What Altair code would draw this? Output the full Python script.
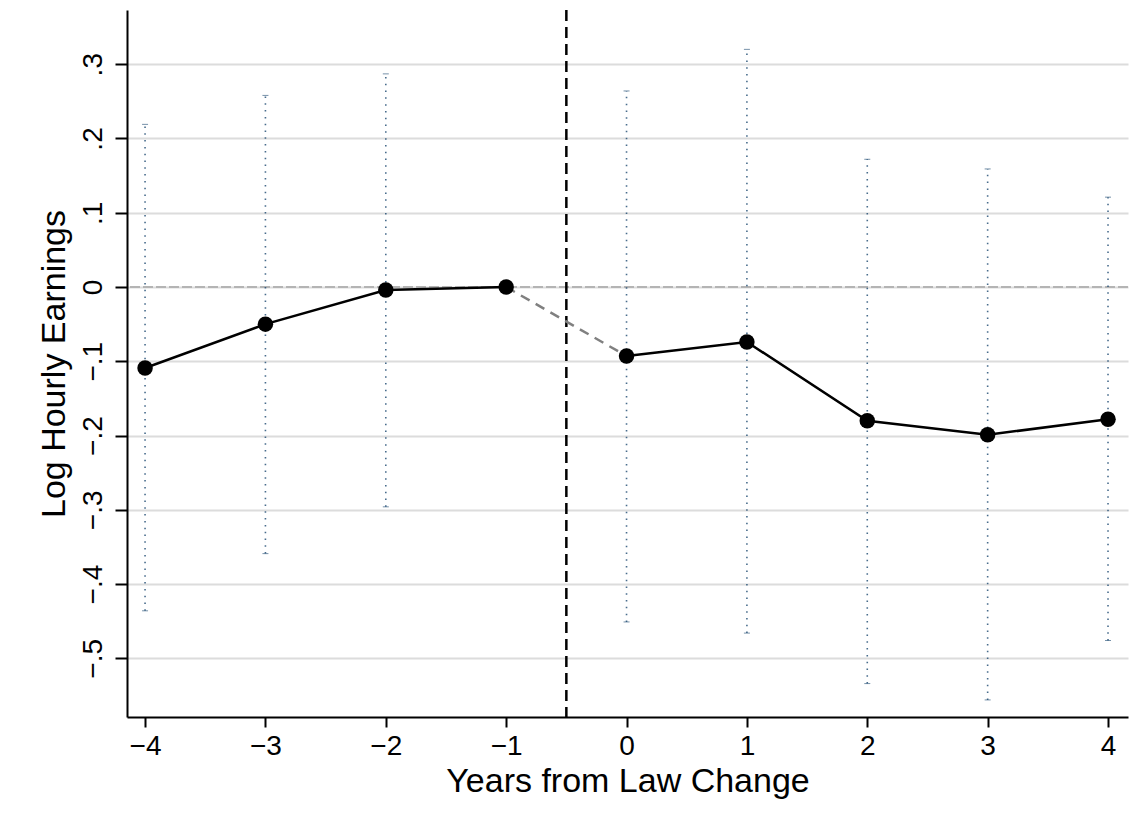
import altair as alt
import pandas as pd

years = [-4, -3, -2, -1, 0, 1, 2, 3, 4]
coef = [-0.109, -0.050, -0.004, 0.0, -0.093, -0.074, -0.180, -0.199, -0.178]
ci_hi = [0.219, 0.258, 0.287, None, 0.264, 0.320, 0.172, 0.159, 0.121]
ci_lo = [-0.436, -0.359, -0.296, None, -0.451, -0.466, -0.534, -0.556, -0.476]
period = ["pre", "pre", "pre", "pre", "post", "post", "post", "post", "post"]

y_ticks = [-0.5, -0.4, -0.3, -0.2, -0.1, 0.0, 0.1, 0.2, 0.3]
x_ticks = [-4, -3, -2, -1, 0, 1, 2, 3, 4]
event_line = [-0.5]
zero_line = [0.0]

df = pd.DataFrame({"year": years, "coef": coef, "hi": ci_hi, "lo": ci_lo, "period": period})
ci_df = df.dropna(subset=["hi", "lo"])
bridge = df[df["year"].isin([-1, 0])]

FONT = "Liberation Sans"
xs = alt.Scale(domain=[-4.15, 4.166], nice=False, zero=False)
ys = alt.Scale(domain=[-0.579, 0.373], nice=False, zero=False)

x_axis = alt.Axis(
    values=x_ticks, title="Years from Law Change", grid=False,
    labelExpr="datum.value < 0 ? '\u2212' + abs(datum.value) : '' + datum.value",
    labelFontSize=28, titleFontSize=34, labelPadding=5, titlePadding=4,
    tickSize=10, tickWidth=2, domainWidth=2, domainColor="black", tickColor="black",
    labelColor="black", titleColor="black", labelFont=FONT, titleFont=FONT,
    titleFontWeight="normal",
)
y_axis = alt.Axis(
    values=y_ticks, title="Log Hourly Earnings", grid=True, gridColor="#dcdcdc", gridWidth=2,
    labelExpr="datum.value == 0 ? '0' : (datum.value < 0 ? '\u2212' : '') + replace(format(abs(datum.value), '.1f'), '0.', '.')",
    labelAngle=270, labelAlign="center", labelBaseline="alphabetic",
    labelFontSize=28, titleFontSize=34, labelPadding=14, titlePadding=8,
    tickSize=12, tickWidth=2, domainWidth=2, domainColor="black", tickColor="black",
    labelColor="black", titleColor="black", labelFont=FONT, titleFont=FONT,
    titleFontWeight="normal",
)

base = alt.Chart(df)

grid_layer = base.mark_point(opacity=0).encode(
    x=alt.X("year:Q", scale=xs, axis=x_axis),
    y=alt.Y("coef:Q", scale=ys, axis=y_axis),
)

zero = alt.Chart(pd.DataFrame({"z": zero_line})).mark_rule(
    color="#b4b4b4", strokeWidth=2.2, strokeDash=[10, 3]
).encode(y=alt.Y("z:Q", scale=ys))

vline = alt.Chart(pd.DataFrame({"v": event_line})).mark_rule(
    color="black", strokeWidth=2.5, strokeDash=[11, 6]
).encode(x=alt.X("v:Q", scale=xs))

ci = alt.Chart(ci_df).mark_rule(
    color="#1a476f", strokeWidth=1.6, strokeDash=[1.5, 5.3], opacity=0.8
).encode(
    x=alt.X("year:Q", scale=xs),
    y=alt.Y("lo:Q", scale=ys),
    y2="hi:Q",
)
cap_hi = alt.Chart(ci_df).mark_tick(
    color="#1a476f", size=6, thickness=1, orient="horizontal", opacity=0.6
).encode(x=alt.X("year:Q", scale=xs), y=alt.Y("hi:Q", scale=ys))
cap_lo = alt.Chart(ci_df).mark_tick(
    color="#1a476f", size=6, thickness=1, orient="horizontal", opacity=0.6
).encode(x=alt.X("year:Q", scale=xs), y=alt.Y("lo:Q", scale=ys))

solid = base.mark_line(color="black", strokeWidth=2.5).encode(
    x=alt.X("year:Q", scale=xs),
    y=alt.Y("coef:Q", scale=ys),
    detail="period:N",
)
dashed = alt.Chart(bridge).mark_line(color="#808080", strokeWidth=2.5, strokeDash=[10, 7]).encode(
    x=alt.X("year:Q", scale=xs),
    y=alt.Y("coef:Q", scale=ys),
)
pts = base.mark_circle(color="black", size=240, opacity=1).encode(
    x=alt.X("year:Q", scale=xs),
    y=alt.Y("coef:Q", scale=ys),
)

chart = alt.layer(grid_layer, zero, ci, cap_hi, cap_lo, vline, solid, dashed, pts).properties(
    width=1001, height=707,
    autosize=alt.AutoSizeParams(type="none"),
    padding={"left": 119, "top": 2, "right": 12, "bottom": 110},
).configure(background="white", view=alt.ViewConfig(strokeWidth=0, stroke="transparent"))

chart.save("out.html", embed_options={"renderer": "svg", "actions": False})
